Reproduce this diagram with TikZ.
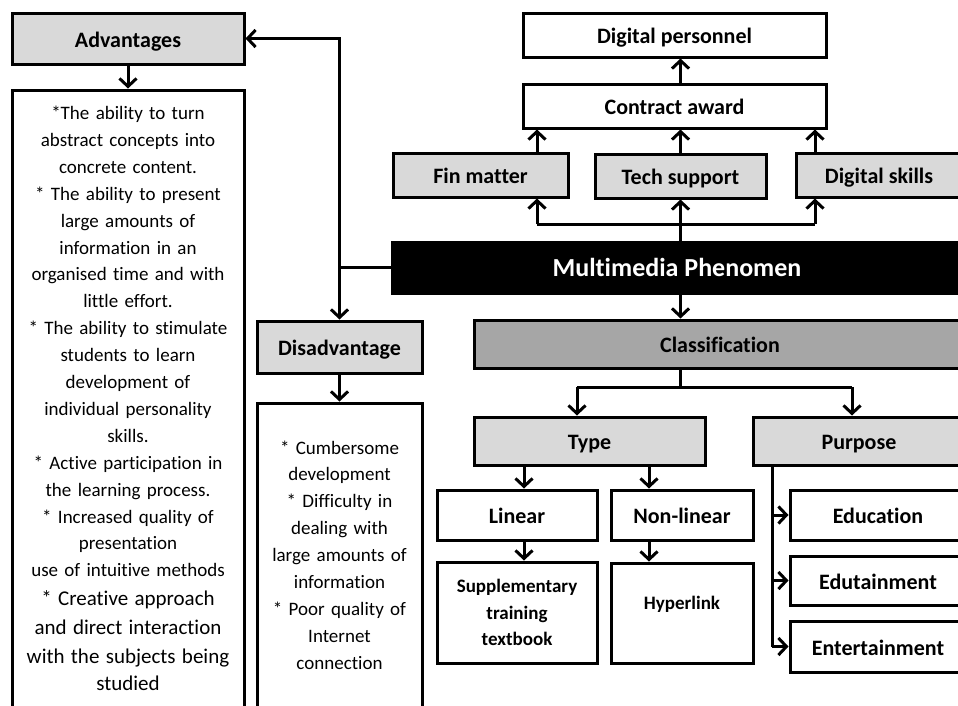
\documentclass[tikz,border=0pt]{standalone}
\usepackage{fontspec}
\setmainfont{Carlito}[Ligatures=NoCommon]
\usetikzlibrary{arrows.meta}
\definecolor{boxgrey}{RGB}{217,217,217}
\definecolor{clsgrey}{RGB}{166,166,166}
\begin{document}
\begin{tikzpicture}[
        x=1pt, y=-1pt,
        frame/.style={draw, line width=3pt, inner sep=0pt},
        box/.style={frame, text height=20pt, text depth=3pt, font=\bfseries\fontsize{22}{26}\selectfont},
        greybox/.style={box, fill=boxgrey},
        note/.style={frame, align=center, font=\fontsize{19}{26.9}\selectfont},
        link/.style={line width=3pt},
        arr/.style={line width=3pt, -{Straight Barb[length=8pt,width=17pt]}}
    ]
        \useasboundingbox (0,0) rectangle (958,705);

        % Left column: advantages and disadvantages
        \node[greybox, minimum width=232, minimum height=51] (adv) at (128,38.5) {Advantages};
        \node[note, minimum width=232, minimum height=617, text width=228] (advtext) at (128,398.5)
            {*The ability to turn\\abstract concepts into\\concrete content.\\{}* The ability to present\\large amounts of\\information in an\\organised time and with\\little effort.\\{}* The ability to stimulate\\students to learn\\development of\\individual personality\\skills.\\{}* Active participation in\\the learning process.\\{}* Increased quality of\\presentation\\use of intuitive methods\par
            \fontsize{21}{29}\selectfont * Creative approach\\and direct interaction\\with the subjects being\\studied};
        \node[greybox, minimum width=165, minimum height=52] (dis) at (339.5,347) {Disadvantage};
        \node[note, minimum width=165, minimum height=304, text width=160] (distext) at (339.5,555)
            {* Cumbersome\\development\\{}* Difficulty in\\dealing with\\large amounts of\\information\\{}* Poor quality of\\Internet\\connection};

        % Centre bar
        \node[box, fill=black, text=white, font=\bfseries\fontsize{26}{30}\selectfont,
            text height=22pt, text depth=5pt,
            minimum width=570, minimum height=51] (mm) at (677,267.5) {Multimedia Phenomen};

        % Top branch
        \node[box, minimum width=303, minimum height=44] (dp) at (674.5,35) {Digital personnel};
        \node[box, minimum width=303, minimum height=44] (ca) at (674.5,106) {Contract award};
        \node[greybox, minimum width=175, minimum height=44] (fin) at (480.5,175) {Fin matter};
        \node[greybox, minimum width=171, minimum height=44] (tech) at (680.5,176) {Tech support};
        \node[greybox, minimum width=166, minimum height=44] (dsk) at (879,175) {Digital skills};

        % Classification branch
        \node[box, fill=clsgrey, minimum width=492, minimum height=48] (cls) at (720,344) {Classification};
        \node[greybox, minimum width=231, minimum height=48] (type) at (589.5,441) {Type};
        \node[greybox, minimum width=212, minimum height=48] (purp) at (859,441) {Purpose};
        \node[box, minimum width=160, minimum height=50] (lin) at (517,515) {Linear};
        \node[box, minimum width=142, minimum height=50] (nonlin) at (682,515) {Non-linear};
        \node[frame, align=center, font=\bfseries\fontsize{19}{26.5}\selectfont,
            minimum width=160, minimum height=101] (supp) at (517,612.5) {Supplementary\\training\\textbook};
        \node[frame, font=\bfseries\fontsize{19}{26.5}\selectfont, text depth=20pt,
            minimum width=142, minimum height=100] (hyp) at (682,613) {Hyperlink};
        \node[box, minimum width=176, minimum height=50] (edu) at (878,515) {Education};
        \node[box, minimum width=176, minimum height=49] (edut) at (878,580.5) {Edutainment};
        \node[box, minimum width=176, minimum height=51] (ent) at (878,646.5) {Entertainment};

        % Helper points for the connector columns
        \coordinate (busL) at (537,224);
        \coordinate (busR) at (815,224);
        \coordinate (forkL) at (577,387);
        \coordinate (forkR) at (852,387);
        \coordinate (colA) at (524,0);
        \coordinate (colB) at (649,0);
        \coordinate (colP) at (772,0);

        % Connectors, left side
        \draw[arr] (adv.south) -- (advtext.north);
        \draw[arr] (dis.south) -- (distext.north);
        \draw[arr] (mm.west) -- (mm.west -| dis.north) -- (dis.north);
        \draw[arr] (mm.west -| dis.north) |- (adv.east);

        % Connectors, top
        \draw[link] (busL) -- (busR);
        \draw[arr] (mm.north -| tech) -- (tech.south);
        \draw[arr] (busL) -- (busL |- fin.south);
        \draw[arr] (busR) -- (busR |- dsk.south);
        \draw[arr] (busL |- fin.north) -- (busL |- ca.south);
        \draw[arr] (tech.north) -- (tech.north |- ca.south);
        \draw[arr] (busR |- dsk.north) -- (busR |- ca.south);
        \draw[arr] (ca.north -| tech) -- (dp.south -| tech);

        % Connectors, classification
        \draw[arr] (mm.south -| tech) -- (cls.north -| tech);
        \draw[link] (cls.south -| tech) -- (forkL -| tech);
        \draw[link] (forkL) -- (forkR);
        \draw[arr] (forkL) -- (forkL |- type.north);
        \draw[arr] (forkR) -- (forkR |- purp.north);
        \draw[arr] (type.south -| colA) -- (lin.north -| colA);
        \draw[arr] (type.south -| colB) -- (nonlin.north -| colB);
        \draw[arr] (lin.south -| colA) -- (supp.north -| colA);
        \draw[arr] (nonlin.south -| colB) -- (hyp.north -| colB);
        \draw[link] (purp.south -| colP) -- (colP |- ent.west);
        \draw[arr] (colP |- edu.west) -- (edu.west);
        \draw[arr] (colP |- edut.west) -- (edut.west);
        \draw[arr] (colP |- ent.west) -- (ent.west);
    \end{tikzpicture}
\end{document}
